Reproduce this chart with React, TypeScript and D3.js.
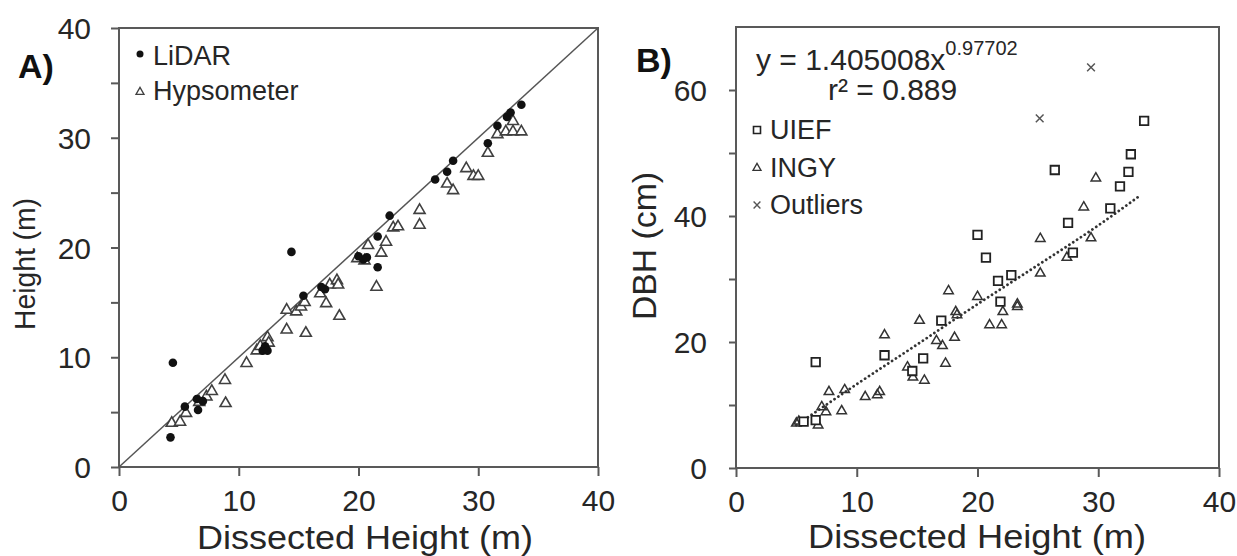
import { useRef, useEffect } from "react";
import * as d3 from "d3";

// Panel A: LiDAR and hypsometer heights against dissected height (m)
const lidarX = [4.3, 4.5, 5.5, 6.6, 6.5, 7.0, 12.0, 12.2, 12.4, 14.4, 15.4, 16.9, 17.2, 20.0, 20.4, 20.7, 21.6, 21.6, 22.6, 26.4, 27.4, 27.9, 30.8, 31.6, 32.4, 32.7, 33.6];
const lidarY = [2.7, 9.5, 5.5, 5.2, 6.2, 6.0, 10.6, 11.0, 10.6, 19.6, 15.6, 16.4, 16.2, 19.2, 18.9, 19.1, 18.2, 21.0, 22.9, 26.2, 26.9, 27.9, 29.5, 31.1, 31.9, 32.3, 33.0];

const hypsoX = [4.4, 5.1, 5.6, 6.7, 7.3, 7.75, 8.85, 8.9, 10.65, 11.5, 11.8, 12.4, 12.5, 14.0, 14.0, 14.8, 15.2, 15.5, 15.6, 16.8, 17.3, 17.6, 18.2, 18.3, 18.4, 19.9, 20.5, 20.8, 21.5, 21.9, 22.3, 22.9, 23.3, 25.1, 25.1, 27.4, 27.9, 29.0, 29.6, 30.0, 30.8, 31.6, 32.3, 32.9, 32.9, 33.6];
const hypsoY = [4.0, 4.1, 4.9, 5.9, 6.4, 6.9, 7.9, 5.8, 9.45, 10.6, 11.0, 11.8, 11.3, 14.3, 12.5, 14.15, 14.6, 15.0, 12.2, 15.8, 14.9, 16.6, 17.0, 16.6, 13.75, 19.0, 18.8, 20.2, 16.4, 19.5, 20.5, 21.8, 21.9, 23.4, 22.05, 25.8, 25.2, 27.2, 26.5, 26.5, 28.6, 30.3, 30.55, 31.5, 30.55, 30.55];

// Panel B: DBH (cm) against dissected height (m)
const uiefX = [5.6, 6.6, 6.6, 12.3, 14.6, 15.5, 17.0, 20.0, 20.7, 21.7, 21.9, 22.8, 26.4, 27.5, 27.9, 31.0, 31.8, 32.5, 32.7, 33.8];
const uiefY = [7.35, 7.6, 16.8, 17.9, 15.4, 17.4, 23.4, 37.0, 33.4, 29.7, 26.4, 30.6, 47.3, 38.9, 34.2, 41.2, 44.7, 47.0, 49.8, 55.1];

const ingyX = [5.0, 5.2, 6.8, 7.1, 7.45, 7.7, 8.75, 9.0, 10.7, 11.7, 11.9, 12.3, 14.2, 14.65, 15.2, 15.6, 16.6, 17.1, 17.35, 17.6, 18.1, 18.2, 18.3, 20.0, 21.0, 22.0, 22.1, 23.3, 23.3, 25.2, 25.2, 27.4, 28.8, 29.4, 29.8];
const ingyY = [7.1, 7.4, 6.8, 9.7, 8.9, 12.1, 9.05, 12.4, 11.3, 11.6, 12.1, 21.1, 16.0, 14.4, 23.4, 13.9, 20.2, 19.4, 16.6, 28.1, 20.7, 24.8, 24.3, 27.2, 22.7, 22.7, 24.8, 25.6, 26.0, 30.9, 36.4, 33.4, 41.4, 36.5, 46.0];

const outlierX = [25.15, 29.4];
const outlierY = [55.5, 63.6];

// power fit y = 1.405008x^0.97702
const trendX = [5, 10, 15, 20, 25, 30, 33.5];
const trendY = [6.8, 13.3, 19.6, 26.0, 32.2, 38.5, 43.3];

const ticksA = [0, 5, 10, 15, 20, 25, 30, 35, 40];
const ticksAx = [0, 10, 20, 30, 40];
const ticksBy = [0, 10, 20, 30, 40, 50, 60];
const ticksBx = [0, 10, 20, 30, 40];

const FONT = "'Liberation Sans', Arial, sans-serif";
const AXIS = "#595959";
const TEXT = "#262626";

const App = () => {
  const svgRef = useRef(null);

  useEffect(() => {
    const svg = d3.select(svgRef.current);
    svg.selectAll("*").remove();
    svg.attr("font-family", FONT);

    const xA = d3.scaleLinear().domain([0, 40]).range([119, 598]);
    const yA = d3.scaleLinear().domain([0, 40]).range([467, 28]);
    const xB = d3.scaleLinear().domain([0, 40]).range([736, 1219]);
    const yB = d3.scaleLinear().domain([0, 70]).range([468, 27]);

    const tri = (s) => d3.symbol(d3.symbolTriangle, (s * s * Math.sqrt(3)) / 4)();
    const sq = (s) => d3.symbol(d3.symbolSquare, s * s)();
    const cross = (s) => d3.symbol(d3.symbolX, s * s * 0.5)();

    // ---- axes helper
    const styleAxis = (g, fontSize) => {
      g.select(".domain").remove();
      g.selectAll(".tick line").attr("stroke", AXIS).attr("stroke-width", 2);
      g.selectAll(".tick text")
        .attr("fill", TEXT)
        .attr("font-size", fontSize)
        .attr("font-family", FONT);
    };

    // ---------------- Panel A ----------------
    const gA = svg.append("g");
    gA.append("g")
      .attr("transform", "translate(119,0)")
      .call(
        d3.axisLeft(yA).tickValues(ticksA).tickSize(8).tickPadding(20)
          .tickFormat((d) => (d % 10 === 0 ? String(d) : ""))
      )
      .call((g) => styleAxis(g, 30))
      .call((g) => g.selectAll(".tick text").attr("dy", "0.35em"));
    gA.append("g")
      .attr("transform", "translate(0,467)")
      .call(d3.axisBottom(xA).tickValues(ticksAx).tickSize(9))
      .call((g) => styleAxis(g, 30))
      .call((g) => g.selectAll(".tick text").attr("dy", null).attr("y", 44));

    gA.append("rect")
      .attr("x", xA(0)).attr("y", yA(40))
      .attr("width", xA(40) - xA(0)).attr("height", yA(0) - yA(40))
      .attr("fill", "none").attr("stroke", AXIS).attr("stroke-width", 2);

    gA.append("line")
      .attr("x1", xA(0)).attr("y1", yA(0)).attr("x2", xA(40)).attr("y2", yA(40))
      .attr("stroke", "#555").attr("stroke-width", 1.5);

    gA.append("g").selectAll("path")
      .data(hypsoX)
      .join("path")
      .attr("d", tri(11))
      .attr("transform", (d, i) => `translate(${xA(d)},${yA(hypsoY[i])})`)
      .attr("fill", "white").attr("stroke", "#404040").attr("stroke-width", 1.6);

    gA.append("g").selectAll("circle")
      .data(lidarX)
      .join("circle")
      .attr("cx", (d) => xA(d))
      .attr("cy", (d, i) => yA(lidarY[i]))
      .attr("r", 4.3)
      .attr("fill", "#111");

    // legend A
    gA.append("circle").attr("cx", 140).attr("cy", 54).attr("r", 3.5).attr("fill", "#111");
    gA.append("path").attr("d", tri(8)).attr("transform", "translate(140,92)")
      .attr("fill", "white").attr("stroke", "#404040").attr("stroke-width", 1.3);
    gA.append("text").attr("x", 153).attr("y", 65).attr("font-size", 27).attr("fill", TEXT).text("LiDAR");
    gA.append("text").attr("x", 153).attr("y", 100).attr("font-size", 27).attr("fill", TEXT).text("Hypsometer");

    gA.append("text").attr("x", 18).attr("y", 78).attr("font-size", 34)
      .attr("font-weight", "bold").attr("fill", "#111").text("A)");

    gA.append("text")
      .attr("x", 365).attr("y", 549).attr("text-anchor", "middle")
      .attr("font-size", 34).attr("fill", TEXT)
      .attr("textLength", 336).attr("lengthAdjust", "spacingAndGlyphs")
      .text("Dissected Height (m)");
    gA.append("text")
      .attr("transform", "translate(35,264) rotate(-90)")
      .attr("text-anchor", "middle").attr("font-size", 30).attr("fill", TEXT)
      .attr("textLength", 132).attr("lengthAdjust", "spacingAndGlyphs")
      .text("Height (m)");

    // ---------------- Panel B ----------------
    const gB = svg.append("g");
    gB.append("g")
      .attr("transform", "translate(736,0)")
      .call(
        d3.axisLeft(yB).tickValues(ticksBy).tickSize(7).tickPadding(22)
          .tickFormat((d) => (d % 20 === 0 ? String(d) : ""))
      )
      .call((g) => styleAxis(g, 30))
      .call((g) => g.selectAll(".tick text").attr("dy", "0.35em"));
    gB.append("g")
      .attr("transform", "translate(0,468)")
      .call(d3.axisBottom(xB).tickValues(ticksBx).tickSize(9))
      .call((g) => styleAxis(g, 30))
      .call((g) => g.selectAll(".tick text").attr("dy", null).attr("y", 44));

    gB.append("rect")
      .attr("x", xB(0)).attr("y", yB(70))
      .attr("width", xB(40) - xB(0)).attr("height", yB(0) - yB(70))
      .attr("fill", "none").attr("stroke", AXIS).attr("stroke-width", 2);

    const line = d3.line()
      .x((d) => xB(d))
      .y((d, i) => yB(trendY[i]))
      .curve(d3.curveMonotoneX);
    gB.append("path")
      .attr("d", line(trendX))
      .attr("fill", "none").attr("stroke", "#333").attr("stroke-width", 2.8)
      .attr("stroke-linecap", "round").attr("stroke-dasharray", "0.01 4.6");

    gB.append("g").selectAll("path")
      .data(ingyX)
      .join("path")
      .attr("d", tri(9.5))
      .attr("transform", (d, i) => `translate(${xB(d)},${yB(ingyY[i])})`)
      .attr("fill", "none").attr("stroke", "#333").attr("stroke-width", 1.5);

    gB.append("g").selectAll("path")
      .data(uiefX)
      .join("path")
      .attr("d", sq(8.5))
      .attr("transform", (d, i) => `translate(${xB(d)},${yB(uiefY[i])})`)
      .attr("fill", "white").attr("stroke", "#222").attr("stroke-width", 1.8);

    gB.append("g").selectAll("path")
      .data(outlierX)
      .join("path")
      .attr("d", cross(9))
      .attr("transform", (d, i) => `translate(${xB(d)},${yB(outlierY[i])})`)
      .attr("fill", "none").attr("stroke", "#555").attr("stroke-width", 1.5);

    // equation + legend B
    const eq = gB.append("text").attr("x", 756).attr("y", 70).attr("font-size", 30).attr("fill", TEXT);
    eq.append("tspan").text("y = 1.405008x");
    eq.append("tspan").attr("font-size", 20).attr("dy", -15).text("0.97702");
    gB.append("text").attr("x", 828).attr("y", 100).attr("font-size", 30).attr("fill", TEXT).text("r² = 0.889");

    gB.append("path").attr("d", sq(7)).attr("transform", "translate(757,130)")
      .attr("fill", "white").attr("stroke", "#222").attr("stroke-width", 1.6);
    gB.append("path").attr("d", tri(8)).attr("transform", "translate(757,168)")
      .attr("fill", "none").attr("stroke", "#333").attr("stroke-width", 1.3);
    gB.append("path").attr("d", cross(8)).attr("transform", "translate(757,205)")
      .attr("fill", "none").attr("stroke", "#555").attr("stroke-width", 1.4);
    gB.append("text").attr("x", 770).attr("y", 139).attr("font-size", 27).attr("fill", TEXT).text("UIEF");
    gB.append("text").attr("x", 770).attr("y", 177).attr("font-size", 27).attr("fill", TEXT).text("INGY");
    gB.append("text").attr("x", 770).attr("y", 214).attr("font-size", 27).attr("fill", TEXT).text("Outliers");

    gB.append("text").attr("x", 636).attr("y", 72).attr("font-size", 34)
      .attr("font-weight", "bold").attr("fill", "#111").text("B)");

    gB.append("text")
      .attr("x", 977).attr("y", 548).attr("text-anchor", "middle")
      .attr("font-size", 34).attr("fill", TEXT)
      .attr("textLength", 338).attr("lengthAdjust", "spacingAndGlyphs")
      .text("Dissected Height (m)");
    gB.append("text")
      .attr("transform", "translate(656,246) rotate(-90)")
      .attr("text-anchor", "middle").attr("font-size", 33).attr("fill", TEXT)
      .attr("textLength", 148).attr("lengthAdjust", "spacingAndGlyphs")
      .text("DBH (cm)");
  }, []);

  return (
    <svg
      ref={svgRef}
      width={1237}
      height={556}
      style={{ position: "absolute", left: 0, top: 0, background: "white" }}
    ></svg>
  );
};

export default App;
